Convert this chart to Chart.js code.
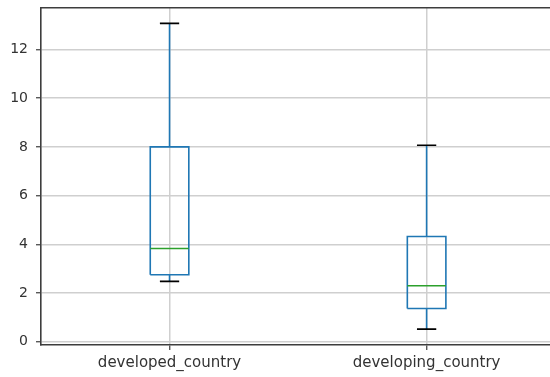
<!DOCTYPE html>
<html>
<head>
<meta charset="utf-8">
<script src="https://cdn.jsdelivr.net/npm/chart.js@4"></script>
<style>
html,body{margin:0;padding:0;background:#fff;overflow:hidden;}
#wrap{width:550px;height:377px;}
</style>
</head>
<body>
<div id="wrap"><canvas id="c" width="550" height="377"></canvas></div>
<script>
// ---- data ----
const categories  = ["developed_country", "developing_country"];
const positions   = [1, 2];
const whiskerLow  = [2.48, 0.52];
const q1          = [2.75, 1.37];
const median      = [3.83, 2.30];
const q3          = [8.00, 4.32];
const whiskerHigh = [13.07, 8.07];
const yTicks      = [0, 2, 4, 6, 8, 10, 12];

// box geometry in data units (matplotlib defaults)
const boxHalf = 0.075;
const capHalf = 0.0375;

// build line segments (null breaks) from the arrays
const boxPts = [], medPts = [], capPts = [];
positions.forEach((p, i) => {
  boxPts.push({x:p-boxHalf,y:q1[i]},{x:p+boxHalf,y:q1[i]},{x:p+boxHalf,y:q3[i]},
              {x:p-boxHalf,y:q3[i]},{x:p-boxHalf,y:q1[i]},{x:p,y:null});
  boxPts.push({x:p,y:q1[i]},{x:p,y:whiskerLow[i]},{x:p,y:null});
  boxPts.push({x:p,y:q3[i]},{x:p,y:whiskerHigh[i]},{x:p,y:null});
  medPts.push({x:p-boxHalf,y:median[i]},{x:p+boxHalf,y:median[i]},{x:p,y:null});
  capPts.push({x:p-capHalf,y:whiskerLow[i]},{x:p+capHalf,y:whiskerLow[i]},{x:p,y:null});
  capPts.push({x:p-capHalf,y:whiskerHigh[i]},{x:p+capHalf,y:whiskerHigh[i]},{x:p,y:null});
});

const lineDs = (data, color, order) => ({
  data, borderColor: color, backgroundColor: color, borderWidth: 1.6,
  pointRadius: 0, pointHoverRadius: 0, fill: false, spanGaps: false,
  tension: 0, order
});

const spine = '#3d3d3d';
const gridC = '#cfcfcf';
const textC = '#333333';

new Chart(document.getElementById('c'), {
  type: 'line',
  data: {
    datasets: [
      lineDs(medPts, '#2ca02c', 0),
      lineDs(capPts, '#000000', 1),
      lineDs(boxPts, '#1f77b4', 2)
    ]
  },
  options: {
    responsive: false,
    animation: false,
    events: [],
    layout: { padding: { top: 8, left: 0, right: 0, bottom: 0 } },
    plugins: { legend: { display: false }, tooltip: { enabled: false } },
    scales: {
      x: {
        type: 'linear', position: 'bottom', min: 0.5, max: 2.48,
        afterBuildTicks: s => { s.ticks = positions.map(v => ({value: v})); },
        afterFit: s => { s.height = 32; },
        ticks: {
          autoSkip: false, maxRotation: 0, padding: 4,
          color: textC, font: { family: 'DejaVu Sans', size: 15 },
          callback: v => { const i = positions.indexOf(v); return i >= 0 ? categories[i] : ''; }
        },
        grid: { color: gridC, lineWidth: 1.5, tickLength: 5, tickColor: spine, tickWidth: 1.2 },
        border: { color: spine, width: 1.6 }
      },
      xTop: {
        type: 'linear', position: 'top', min: 0.5, max: 2.48,
        afterFit: s => { s.height = 0; },
        ticks: { display: false },
        grid: { display: false },
        border: { display: true, color: spine, width: 1.6 }
      },
      y: {
        type: 'linear', min: -0.13, max: 13.7,
        afterBuildTicks: s => { s.ticks = yTicks.map(v => ({value: v})); },
        afterFit: s => { s.width = 41; s.paddingTop = 0; s.paddingBottom = 0; },
        ticks: { padding: 8, color: textC, font: { family: 'DejaVu Sans', size: 14 } },
        grid: { color: gridC, lineWidth: 1.5, tickLength: 5, tickColor: spine, tickWidth: 1.2 },
        border: { color: spine, width: 1.6 }
      }
    }
  }
});
</script>
</body>
</html>
